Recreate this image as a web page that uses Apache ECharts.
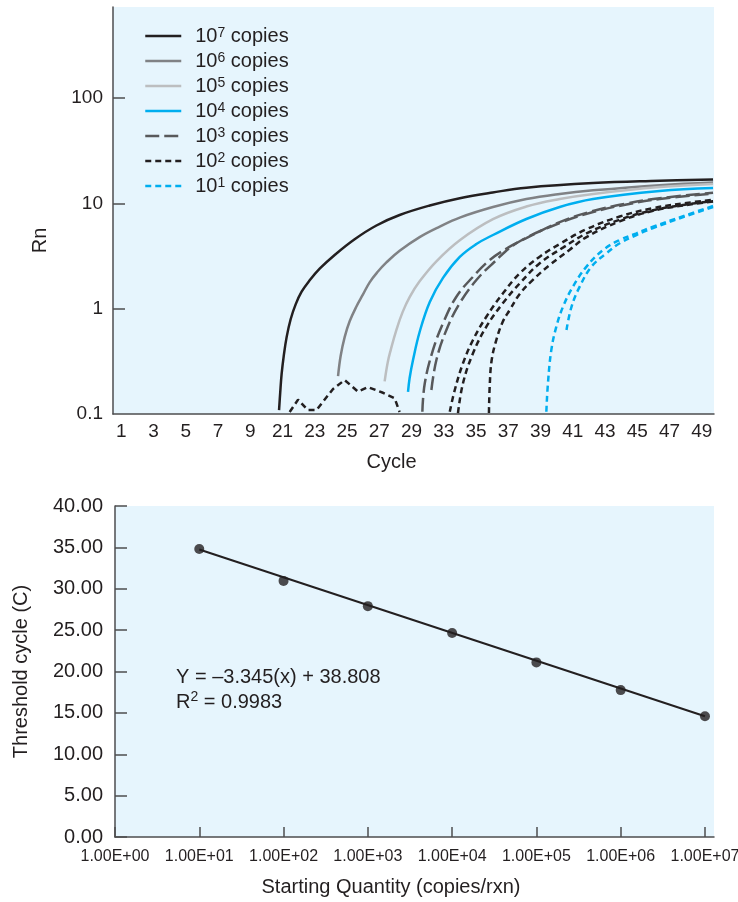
<!DOCTYPE html>
<html>
<head>
<meta charset="utf-8">
<script src="https://cdn.jsdelivr.net/npm/echarts@6/dist/echarts.min.js"></script>
<style>
  html, body { margin: 0; padding: 0; background: #ffffff; }
  #chart { width: 738px; height: 902px; }
</style>
</head>
<body>
<div id="chart"></div>
<script>
// ---- Amplification plot: x axis tick labels (evenly spaced positions) ----
const cycleTickValues = [1, 3, 5, 7, 9, 11, 13, 15, 17, 19, 21, 23, 25, 27, 29, 31, 33, 35, 37];
const cycleTickLabels = ['1', '3', '5', '7', '9', '21', '23', '25', '27', '29', '33', '35', '37', '39', '41', '43', '45', '47', '49'];
const rnTickValues = [0.1, 1, 10, 100];
const rnTickLabels = ['0.1', '1', '10', '100'];

// ---- Amplification curves (cycle position, Rn) ----
const e7Cycle = [10.78, 10.85, 10.94, 11.07, 11.25, 11.50, 11.81, 12.18, 12.68, 13.30, 14.23, 15.47, 16.82, 18.26, 20.13, 21.99, 24.03, 26.12, 30.26, 34.39, 37.70];
const e7Rn    = [0.109, 0.158, 0.240, 0.355, 0.537, 0.794, 1.10, 1.45, 1.86, 2.40, 3.24, 4.57, 6.17, 7.76, 9.55, 11.2, 12.7, 14.1, 15.6, 16.4, 16.9];

const e6Cycle = [14.44, 14.60, 14.85, 15.16, 15.58, 15.97, 16.40, 16.90, 17.44, 18.26, 19.50, 20.75, 21.99, 24.05, 26.12, 28.19, 30.26, 34.39, 37.70];
const e6Rn    = [0.229, 0.355, 0.537, 0.759, 1.05, 1.35, 1.78, 2.24, 2.75, 3.55, 4.79, 6.03, 7.33, 9.23, 11.0, 12.3, 13.3, 14.9, 15.8];

const e5Cycle = [17.33, 17.52, 17.71, 18.06, 18.45, 18.88, 19.50, 20.54, 21.99, 24.05, 26.12, 28.19, 30.26, 34.39, 37.70];
const e5Rn    = [0.204, 0.309, 0.407, 0.631, 0.933, 1.29, 1.82, 2.82, 4.47, 7.08, 9.33, 11.0, 12.3, 14.3, 15.3];

const e4Cycle = [18.78, 18.88, 19.09, 19.50, 20.13, 20.95, 21.99, 23.02, 24.05, 26.12, 28.19, 30.26, 34.39, 37.70];
const e4Rn    = [0.162, 0.220, 0.326, 0.601, 1.16, 1.96, 3.10, 4.11, 5.01, 7.11, 9.25, 11.0, 13.1, 14.0];

const e3aCycle = [19.67, 19.82, 20.33, 20.95, 21.78, 22.81, 23.85, 25.09, 26.12, 28.19, 30.26, 32.33, 34.39, 37.70];
const e3aRn    = [0.105, 0.196, 0.406, 0.727, 1.30, 2.01, 2.90, 3.88, 4.69, 6.65, 8.47, 9.98, 11.2, 12.6];
const e3bCycle = [20.23, 20.54, 21.16, 21.99, 23.02, 24.05, 25.50, 28.19, 30.26, 32.33, 34.39, 37.70];
const e3bRn    = [0.169, 0.326, 0.628, 1.13, 1.87, 2.70, 4.18, 6.51, 8.28, 9.77, 11.0, 12.4];

const e2aCycle = [21.37, 21.68, 22.19, 22.81, 23.64, 24.67, 25.71, 26.95, 28.19, 29.85, 31.91, 33.98, 36.05, 37.70];
const e2aRn    = [0.105, 0.169, 0.303, 0.505, 0.839, 1.40, 2.17, 3.12, 4.12, 5.69, 7.50, 9.02, 10.1, 10.8];
const e2bCycle = [21.88, 22.19, 22.81, 23.64, 24.67, 25.71, 26.95, 28.39, 29.85, 31.91, 33.98, 36.05, 37.70];
const e2bRn    = [0.102, 0.196, 0.377, 0.675, 1.13, 1.74, 2.70, 3.80, 5.19, 7.00, 8.61, 9.77, 10.5];
const e2cCycle = [23.80, 23.85, 23.97, 24.26, 24.65, 25.09, 25.71, 26.51, 27.57, 28.81, 29.85, 31.91, 33.98, 36.05, 37.70];
const e2cRn    = [0.102, 0.188, 0.326, 0.505, 0.748, 0.972, 1.38, 1.87, 2.60, 3.63, 4.79, 6.76, 8.51, 9.66, 10.4];
const e2NoiseCycle = [11.44, 11.96, 12.56, 13.10, 14.13, 14.85, 15.68, 16.30, 17.23, 17.95, 18.26];
const e2NoiseRn    = [0.1045, 0.137, 0.109, 0.109, 0.173, 0.210, 0.163, 0.180, 0.159, 0.141, 0.1045];

const e1aCycle = [27.36, 27.46, 27.67, 27.98, 28.39, 29.01, 29.85, 30.88, 31.91, 32.95, 33.98, 36.05, 37.70];
const e1aRn    = [0.105, 0.196, 0.406, 0.675, 1.04, 1.62, 2.51, 3.61, 4.49, 5.20, 6.01, 7.76, 9.44];
const e1bCycle = [28.61, 28.92, 29.43, 30.16, 31.09, 31.91, 32.95, 33.98, 36.05, 37.70];
const e1bRn    = [0.628, 1.04, 1.62, 2.51, 3.36, 4.18, 5.01, 5.83, 7.59, 9.25];

// ---- Standard curve ----
const startingQuantity = [1e1, 1e2, 1e3, 1e4, 1e5, 1e6, 1e7];
const thresholdCycle   = [34.8, 30.95, 27.9, 24.65, 21.1, 17.75, 14.6];
const fitLineQuantity  = [1e1, 1e7];
const fitLineCycle     = [34.75, 14.6];
const quantityTickValues = [1, 1e1, 1e2, 1e3, 1e4, 1e5, 1e6, 1e7];
const quantityTickLabels = ['1.00E+00', '1.00E+01', '1.00E+02', '1.00E+03', '1.00E+04', '1.00E+05', '1.00E+06', '1.00E+07'];
const legendNames = ['10^7 copies', '10^6 copies', '10^5 copies', '10^4 copies', '10^3 copies', '10^2 copies', '10^1 copies'];

const zip = (xs, ys) => xs.map((x, i) => [x, ys[i]]);

const INK = '#231f20';
const AXIS = '#4d4d4f';
const PLOT_BG = '#e6f5fd';
const FONT = '"Liberation Sans", Arial, Helvetica, sans-serif';

const styles = {
  '10^7 copies': { color: INK, type: 'solid' },
  '10^6 copies': { color: '#808285', type: 'solid' },
  '10^5 copies': { color: '#bcbec0', type: 'solid' },
  '10^4 copies': { color: '#00aeef', type: 'solid' },
  '10^3 copies': { color: '#58595b', type: [14, 5] },
  '10^2 copies': { color: INK, type: [6, 4] },
  '10^1 copies': { color: '#00aeef', type: [6, 4] }
};

const curves = [
  ['10^7 copies', e7Cycle, e7Rn, true],
  ['10^6 copies', e6Cycle, e6Rn, true],
  ['10^5 copies', e5Cycle, e5Rn, true],
  ['10^4 copies', e4Cycle, e4Rn, true],
  ['10^3 copies', e3aCycle, e3aRn, true],
  ['10^3 copies', e3bCycle, e3bRn, true],
  ['10^2 copies', e2aCycle, e2aRn, true],
  ['10^2 copies', e2bCycle, e2bRn, true],
  ['10^2 copies', e2cCycle, e2cRn, true],
  ['10^2 copies', e2NoiseCycle, e2NoiseRn, false],
  ['10^1 copies', e1aCycle, e1aRn, true],
  ['10^1 copies', e1bCycle, e1bRn, true]
];

const curveSeries = curves.map(([name, xs, ys, smooth]) => ({
  name: name,
  type: 'line',
  xAxisIndex: 0,
  yAxisIndex: 0,
  data: zip(xs, ys),
  smooth: smooth ? 0.4 : false,
  symbol: 'none',
  showSymbol: false,
  clip: true,
  lineStyle: { color: styles[name].color, width: 2.5, type: styles[name].type },
  itemStyle: { color: styles[name].color }
}));

const axisLineStyle = { color: AXIS, width: 1.5 };

const option = {
  animation: false,
  backgroundColor: '#ffffff',
  textStyle: { fontFamily: FONT, color: INK },
  grid: [
    { left: 113, top: 7, width: 601, height: 407, show: true, backgroundColor: PLOT_BG, borderWidth: 0, outerBoundsMode: 'none', containLabel: false },
    { left: 115, top: 506, width: 599, height: 331, show: true, backgroundColor: PLOT_BG, borderWidth: 0, outerBoundsMode: 'none', containLabel: false }
  ],
  legend: {
    orient: 'vertical',
    left: 144,
    top: 26,
    padding: 0,
    itemWidth: 36,
    itemHeight: 14,
    itemGap: 5,
    data: legendNames,
    itemStyle: { opacity: 0 },
    lineStyle: { width: 2.5 },
    formatter: name => name.replace(/\^(\d)/, '{s|$1}'),
    textStyle: {
      fontFamily: FONT,
      fontSize: 20,
      lineHeight: 20,
      color: INK,
      padding: [0, 0, 0, 9],
      rich: { s: { fontSize: 14, lineHeight: 14, verticalAlign: 'top', fontFamily: FONT, color: INK } }
    }
  },
  xAxis: [
    {
      gridIndex: 0,
      type: 'value',
      min: 0.48,
      max: 37.76,
      axisLine: { show: true, onZero: false, lineStyle: axisLineStyle },
      axisTick: { show: false },
      splitLine: { show: false },
      axisLabel: {
        customValues: cycleTickValues,
        formatter: v => cycleTickLabels[cycleTickValues.indexOf(Math.round(v))],
        fontSize: 19,
        margin: 8,
        color: INK
      },
      name: 'Cycle',
      nameLocation: 'middle',
      nameGap: 38,
      nameTextStyle: { fontSize: 20, color: INK, padding: [0, 44, 0, 0] }
    },
    {
      gridIndex: 1,
      type: 'log',
      logBase: 10,
      min: 1,
      max: 1.28e7,
      axisLine: { show: true, onZero: false, lineStyle: axisLineStyle },
      axisTick: { show: true, inside: true, length: 10, customValues: quantityTickValues, lineStyle: axisLineStyle },
      splitLine: { show: false },
      minorTick: { show: false },
      axisLabel: {
        customValues: quantityTickValues,
        formatter: v => quantityTickLabels[Math.round(Math.log10(v))],
        fontSize: 16,
        margin: 12,
        color: INK
      },
      name: 'Starting Quantity (copies/rxn)',
      nameLocation: 'middle',
      nameGap: 40,
      nameTextStyle: { fontSize: 20, color: INK, padding: [0, 47, 0, 0] }
    }
  ],
  yAxis: [
    {
      gridIndex: 0,
      type: 'log',
      logBase: 10,
      min: 0.1,
      max: 733,
      axisLine: { show: true, onZero: false, lineStyle: axisLineStyle },
      axisTick: { show: true, inside: true, length: 12, customValues: [1, 10, 100], lineStyle: axisLineStyle },
      splitLine: { show: false },
      axisLabel: {
        customValues: rnTickValues,
        formatter: v => rnTickLabels[Math.round(Math.log10(v)) + 1],
        fontSize: 19,
        margin: 10,
        color: INK
      },
      name: 'Rn',
      nameLocation: 'middle',
      nameGap: 63,
      nameTextStyle: { fontSize: 20, color: INK, padding: [0, 60, 0, 0] }
    },
    {
      gridIndex: 1,
      type: 'value',
      min: 0,
      max: 40,
      interval: 5,
      axisLine: { show: true, onZero: false, lineStyle: axisLineStyle },
      axisTick: { show: true, inside: true, length: 12, lineStyle: axisLineStyle },
      splitLine: { show: false },
      axisLabel: {
        formatter: v => v.toFixed(2),
        fontSize: 20,
        margin: 12,
        color: INK
      },
      name: 'Threshold cycle (C)',
      nameLocation: 'middle',
      nameGap: 84,
      nameTextStyle: { fontSize: 20, color: INK }
    }
  ],
  graphic: [
    {
      type: 'text',
      left: 176,
      top: 665,
      style: {
        text: 'Y = \u20133.345(x) + 38.808\nR{s|2} = 0.9983',
        font: '20px ' + FONT,
        fill: INK,
        lineHeight: 25,
        rich: { s: { fontSize: 14, lineHeight: 14, verticalAlign: 'top', fill: INK } }
      }
    }
  ],
  series: curveSeries.concat([
    {
      name: 'Standard curve fit',
      type: 'line',
      xAxisIndex: 1,
      yAxisIndex: 1,
      data: zip(fitLineQuantity, fitLineCycle),
      symbol: 'none',
      lineStyle: { color: INK, width: 2 }
    },
    {
      name: 'Standards',
      type: 'scatter',
      xAxisIndex: 1,
      yAxisIndex: 1,
      data: zip(startingQuantity, thresholdCycle),
      symbol: 'circle',
      symbolSize: 10,
      itemStyle: { color: INK }
    }
  ])
};

const chart = echarts.init(document.getElementById('chart'), null, { renderer: 'canvas' });
chart.setOption(option);
</script>
</body>
</html>
